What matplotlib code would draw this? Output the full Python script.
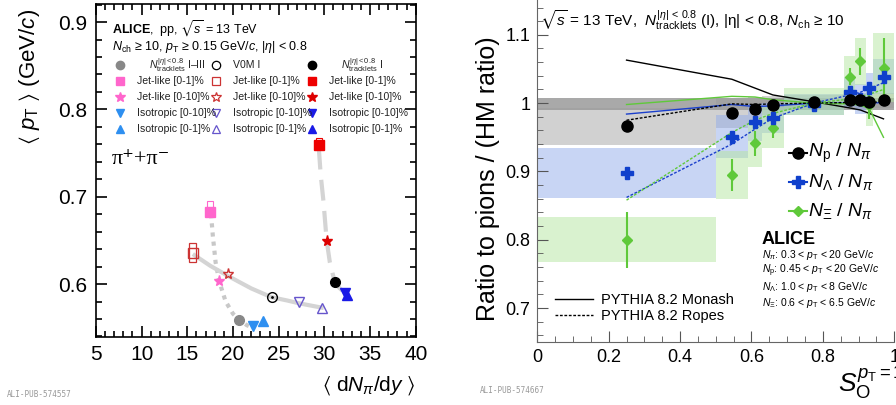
import numpy as np
import matplotlib.pyplot as plt
from matplotlib.patches import Rectangle
from matplotlib.lines import Line2D

plt.rcParams['font.family'] = ['Liberation Sans', 'DejaVu Sans']
plt.rcParams['mathtext.fontset'] = 'custom'
plt.rcParams['mathtext.rm'] = 'Liberation Sans'
plt.rcParams['mathtext.it'] = 'Liberation Sans:italic'
plt.rcParams['mathtext.bf'] = 'Liberation Sans:bold'
plt.rcParams['mathtext.fallback'] = 'stixsans'

# ---- left panel: <pT> vs <dN/dy>, pions ----
# N_tracklets I-III (filled, light colours)
trk13_x = [17.5, 18.5, 20.66, 22.16, 23.3]
trk13_y = [0.683, 0.603, 0.559, 0.552, 0.558]
# V0M I (open)
v0m_x = [15.6, 19.45, 24.25, 27.2, 29.7]
v0m_y = [0.635, 0.611, 0.585, 0.579, 0.573]
# N_tracklets I (filled, strong colours)
trk1_x = [29.4, 30.25, 31.2, 32.3, 32.5]
trk1_y = [0.759, 0.6495, 0.602, 0.590, 0.588]
# guide curves
dot_x = [17.6, 17.8, 18.1, 18.5, 19.2, 20.0, 20.7, 21.5, 22.1]
dot_y = [0.680, 0.655, 0.625, 0.603, 0.580, 0.566, 0.559, 0.553, 0.550]
sol_x = [15.8, 17.5, 19.5, 22.0, 24.2, 26.0, 27.2, 29.7]
sol_y = [0.633, 0.621, 0.609, 0.595, 0.585, 0.581, 0.578, 0.573]
dash_x = [29.4, 29.6, 29.9, 30.25, 30.6, 31.0, 31.4, 32.3]
dash_y = [0.755, 0.725, 0.695, 0.650, 0.625, 0.608, 0.598, 0.589]

# ---- right panel: ratio to pions vs S_O ----
so_edges = [0, 0.5, 0.59, 0.63, 0.69, 0.86, 0.89, 0.92, 0.94, 1.0]
so_x = [0.25, 0.545, 0.61, 0.66, 0.775, 0.875, 0.905, 0.93, 0.97]
p_y = [0.966, 0.985, 0.992, 0.997, 1.001, 1.005, 1.004, 1.001, 1.004]
p_sys = [0.027, 0.022, 0.017, 0.014, 0.011, 0.011, 0.011, 0.011, 0.011]
lam_y = [0.8975, 0.951, 0.972, 0.978, 0.998, 1.016, 1.006, 1.022, 1.039]
lam_sys = [0.037, 0.032, 0.027, 0.022, 0.016, 0.022, 0.022, 0.022, 0.026]
xi_y = [0.800, 0.895, 0.941, 0.964, 1.002, 1.039, 1.061, 0.997, 1.052]
xi_err = [0.041, 0.023, 0.018, 0.015, 0.006, 0.012, 0.020, 0.020, 0.044]
xi_sys = [0.033, 0.035, 0.035, 0.030, 0.020, 0.030, 0.035, 0.030, 0.050]
norm_band = [0.990, 1.007]
# PYTHIA
mon_p = [1.063, 1.035, 1.022, 1.012, 1.002, 0.993, 0.990, 0.985, 0.977]
mon_lam = [0.984, 0.998, 0.995, 0.996, 1.000, 1.000, 1.000, 1.000, 1.001]
mon_xi = [0.998, 1.010, 1.009, 1.005, 1.000, 0.999, 0.997, 0.992, 0.950]
rop_p = [0.975, 0.999, 0.998, 0.999, 1.000, 1.001, 1.001, 1.001, 1.002]
rop_lam = [0.862, 0.940, 0.962, 0.978, 1.000, 1.012, 1.016, 1.021, 1.030]
rop_xi = [0.858, 0.957, 0.975, 0.985, 1.000, 1.006, 1.010, 1.013, 1.020]

fig = plt.figure(figsize=(8.96, 4.05), dpi=100)
ax = fig.add_axes([0.107, 0.168, 0.357, 0.822])
ax2 = fig.add_axes([0.5997, 0.155, 0.3983, 0.845])

# left curves
ax.plot(dot_x, dot_y, ls=(0, (1, 1.2)), color='#c8c8c8', lw=3, zorder=1)
ax.plot(sol_x, sol_y, ls='-', color='#d4d4d4', lw=3, zorder=1)
ax.plot(dash_x, dash_y, ls=(0, (5, 2.5)), color='#d4d4d4', lw=3, zorder=1)

# systematic boxes (open) for jet-like 0-1%
ax.add_patch(Rectangle((trk13_x[0] - 0.35, trk13_y[0] - 0.004), 0.7, 0.016, fill=False, ec='#ff66cc', lw=0.8, zorder=2))
ax.add_patch(Rectangle((v0m_x[0] - 0.4, v0m_y[0] - 0.010), 0.8, 0.022, fill=False, ec='#cc3333', lw=0.9, zorder=2))
ax.add_patch(Rectangle((trk1_x[0] - 0.35, trk1_y[0] - 0.004), 0.7, 0.012, fill=False, ec='#ee0000', lw=0.8, zorder=2))

m13 = ['s', '*', 'o', 'v', '^']
c13 = ['#ff66cc', '#ff66cc', '#888888', '#2e8ff0', '#2e8ff0']
cv0 = ['#cc3333', '#cc3333', 'black', '#6655cc', '#6655cc']
c1 = ['#ee0000', '#dd0000', 'black', '#1a1ae6', '#1a1ae6']
sz = [7, 8, 7, 7, 7]
for i in range(5):
    ax.plot(trk13_x[i], trk13_y[i], marker=m13[i], ms=sz[i], color=c13[i], ls='none', zorder=3)
    ax.plot(v0m_x[i], v0m_y[i], marker=m13[i], ms=sz[i], mfc='none', mec=cv0[i], mew=1, ls='none', zorder=3)
    ax.plot(trk1_x[i], trk1_y[i], marker=m13[i], ms=sz[i], color=c1[i], ls='none', zorder=3)
ax.plot(v0m_x[2], v0m_y[2], marker='.', ms=2, color='black', zorder=4)

ax.set_xlim(5, 40)
ax.set_ylim(0.5394, 0.9206)
ax.set_xticks(np.arange(5, 41, 5))
ax.set_xticks(np.arange(5, 41, 1), minor=True)
ax.set_yticks([0.6, 0.7, 0.8, 0.9])
ax.set_yticklabels(['0.6', '0.7', '0.8', '0.9'])
ax.set_yticks(np.arange(0.54, 0.921, 0.02), minor=True)
ax.tick_params(which='both', direction='in', top=True, right=True, labelsize=15, width=1.2)
ax.tick_params(which='major', length=8, pad=6)
ax.tick_params(which='minor', length=4)
for s in ax.spines.values():
    s.set_linewidth(1.2)

ax.text(0.05, 0.925, r'$\mathbf{ALICE}$,  pp, $\sqrt{s}$ = 13 TeV', transform=ax.transAxes, fontsize=9, va='center')
ax.text(0.05, 0.872, r'$N_{\rm ch}$ ≥ 10, $p_{\rm T}$ ≥ 0.15 GeV/$c$, |$\eta$| < 0.8', transform=ax.transAxes, fontsize=9, va='center')

leg_x = [0.075, 0.375, 0.675]
leg_rows = [0.817, 0.769, 0.721, 0.673, 0.625]
head = [r'$N_{\rm tracklets}^{|\eta|<0.8}$ I–III', 'V0M I', r'$N_{\rm tracklets}^{|\eta|<0.8}$ I']
labels = ['', 'Jet-like [0-1]%', 'Jet-like [0-10]%', 'Isotropic [0-10]%', 'Isotropic [0-1]%']
order = [2, 0, 1, 3, 4]
for c, cols in enumerate([c13, cv0, c1]):
    for r, k in enumerate(order):
        kw = dict(marker=m13[k], ms=sz[k] - 1, ls='none', transform=ax.transAxes, clip_on=False)
        if c == 1:
            ax.plot(leg_x[c], leg_rows[r], mfc='none', mec=cols[k], mew=0.9, **kw)
        else:
            ax.plot(leg_x[c], leg_rows[r], color=cols[k], **kw)
        txt = head[c] if r == 0 else labels[r]
        dx = 0.09 if (r == 0 and c != 1) else 0.053
        ax.text(leg_x[c] + dx, leg_rows[r], txt, transform=ax.transAxes, fontsize=7.6, va='center', color='#222222')

ax.text(0.05, 0.532, 'π⁺+π⁻', transform=ax.transAxes, fontsize=16, family=['Liberation Serif', 'DejaVu Serif'], va='center')
ax.text(1.0, -0.145, r'$\langle$ d$N_{\pi}$/d$y$ $\rangle$', transform=ax.transAxes, fontsize=15, ha='right', va='center')
fig.text(0.033, 0.978, r'$\langle$ $p_{\rm T}$ $\rangle$ (GeV/$c$)', rotation=90, fontsize=16, ha='center', va='top')

# ---- right panel ----
ax2.axhspan(norm_band[0], norm_band[1], color='#8c8c8c', alpha=0.75, lw=0, zorder=1)
for i in range(len(so_x)):
    lo, w = so_edges[i], so_edges[i + 1] - so_edges[i]
    ax2.add_patch(Rectangle((lo, p_y[i] - p_sys[i]), w, 2 * p_sys[i], color='#9a9a9a', alpha=0.45, lw=0, zorder=1))
    ax2.add_patch(Rectangle((lo, lam_y[i] - lam_sys[i]), w, 2 * lam_sys[i], color='#93acea', alpha=0.5, lw=0, zorder=1))
    ax2.add_patch(Rectangle((lo, xi_y[i] - xi_sys[i]), w, 2 * xi_sys[i], color='#b5e6a0', alpha=0.5, lw=0, zorder=1))

ax2.plot(so_x, mon_p, color='black', lw=1, zorder=2)
ax2.plot(so_x, mon_lam, color='#1a3fcc', lw=1, zorder=2)
ax2.plot(so_x, mon_xi, color='#5fc93a', lw=1, zorder=2)
ax2.plot(so_x, rop_p, color='black', lw=1, ls=(0, (2, 1.2)), zorder=2)
ax2.plot(so_x, rop_lam, color='#1a3fcc', lw=1, ls=(0, (2, 1.2)), zorder=2)
ax2.plot(so_x, rop_xi, color='#5fc93a', lw=1, ls=(0, (2, 1.2)), zorder=2)

ax2.errorbar(so_x, xi_y, yerr=xi_err, fmt='D', ms=5, color='#5fc93a', elinewidth=1.5, capsize=0, zorder=3)
ax2.plot(so_x, lam_y, 'P', ms=9, color='#1040cc', ls='none', zorder=4)
ax2.plot(so_x, p_y, 'o', ms=8, color='black', ls='none', zorder=5)

ax2.set_xlim(0, 1.0)
ax2.set_ylim(0.65, 1.151)
ax2.set_xticks([0, 0.2, 0.4, 0.6, 0.8, 1.0])
ax2.set_xticklabels(['0', '0.2', '0.4', '0.6', '0.8', '1'])
ax2.set_xticks(np.arange(0, 1.001, 0.05), minor=True)
ax2.set_yticks([0.7, 0.8, 0.9, 1.0, 1.1])
ax2.set_yticklabels(['0.7', '0.8', '0.9', '1', '1.1'])
ax2.set_yticks(np.arange(0.66, 1.15, 0.02), minor=True)
ax2.tick_params(which='both', direction='in', labelsize=13, color='#555555')
ax2.tick_params(which='major', length=8, pad=5)
ax2.tick_params(which='minor', length=4)
for s in ax2.spines.values():
    s.set_color('#666666')
ax2.spines['top'].set_visible(False)
ax2.spines['right'].set_visible(False)

ax2.text(0.008, 0.94, r'$\sqrt{s}$ = 13 TeV,  $N_{\rm tracklets}^{|\eta|\,<\,0.8}$ (I), |η| < 0.8, $N_{\rm ch}$ ≥ 10',
         transform=ax2.transAxes, fontsize=11, va='center')

leg_items = [('o', 'black', 8, r'$N_{\rm p}$ / $N_{\pi}$', 0.552),
             ('P', '#1040cc', 9, r'$N_{\Lambda}$ / $N_{\pi}$', 0.469),
             ('D', '#5fc93a', 5, r'$N_{\Xi}$ / $N_{\pi}$', 0.384)]
for mk, col, ms, lab, yy in leg_items:
    ax2.plot([0.705, 0.755], [yy, yy], color=col, lw=1.5, transform=ax2.transAxes, clip_on=False, zorder=5)
    ax2.plot(0.731, yy, marker=mk, ms=ms, color=col, transform=ax2.transAxes, clip_on=False, zorder=6)
    ax2.text(0.758, yy, lab, transform=ax2.transAxes, fontsize=14, va='center')

ax2.text(0.629, 0.30, 'ALICE', transform=ax2.transAxes, fontsize=13, fontweight='bold', va='center')
small = [r'$N_{\pi}$: 0.3 < $p_{\rm T}$ < 20 GeV/$c$',
         r'$N_{\rm p}$: 0.45 < $p_{\rm T}$ < 20 GeV/$c$',
         r'$N_{\Lambda}$: 1.0 < $p_{\rm T}$ < 8 GeV/$c$',
         r'$N_{\Xi}$: 0.6 < $p_{\rm T}$ < 6.5 GeV/$c$']
for k, t in enumerate(small):
    ax2.text(0.629, 0.255 - 0.047 * k, t, transform=ax2.transAxes, fontsize=7.5, va='center')

ax2.legend(handles=[Line2D([], [], color='black', lw=1),
                    Line2D([], [], color='black', lw=1, ls=(0, (2, 1.2)))],
           labels=['PYTHIA 8.2 Monash', 'PYTHIA 8.2 Ropes'],
           loc='lower left', bbox_to_anchor=(0.02, 0.025), frameon=False, fontsize=10.5,
           handlelength=2.6, handletextpad=0.6, labelspacing=0.15, borderpad=0.2)

fig.text(0.545, 0.91, 'Ratio to pions / (HM ratio)', rotation=90, fontsize=18, ha='center', va='top')
fig.text(0.935, 0.055, r'$S_{\rm O}^{p_{\rm T}=1}$', fontsize=19, ha='left', va='center')

fig.text(0.008, 0.02, 'ALI-PUB-574557', fontsize=5.5, family='DejaVu Sans Mono', color='#999999')
fig.text(0.535, 0.03, 'ALI-PUB-574667', fontsize=5.5, family='DejaVu Sans Mono', color='#999999')

fig.savefig('out.png', dpi=100)
